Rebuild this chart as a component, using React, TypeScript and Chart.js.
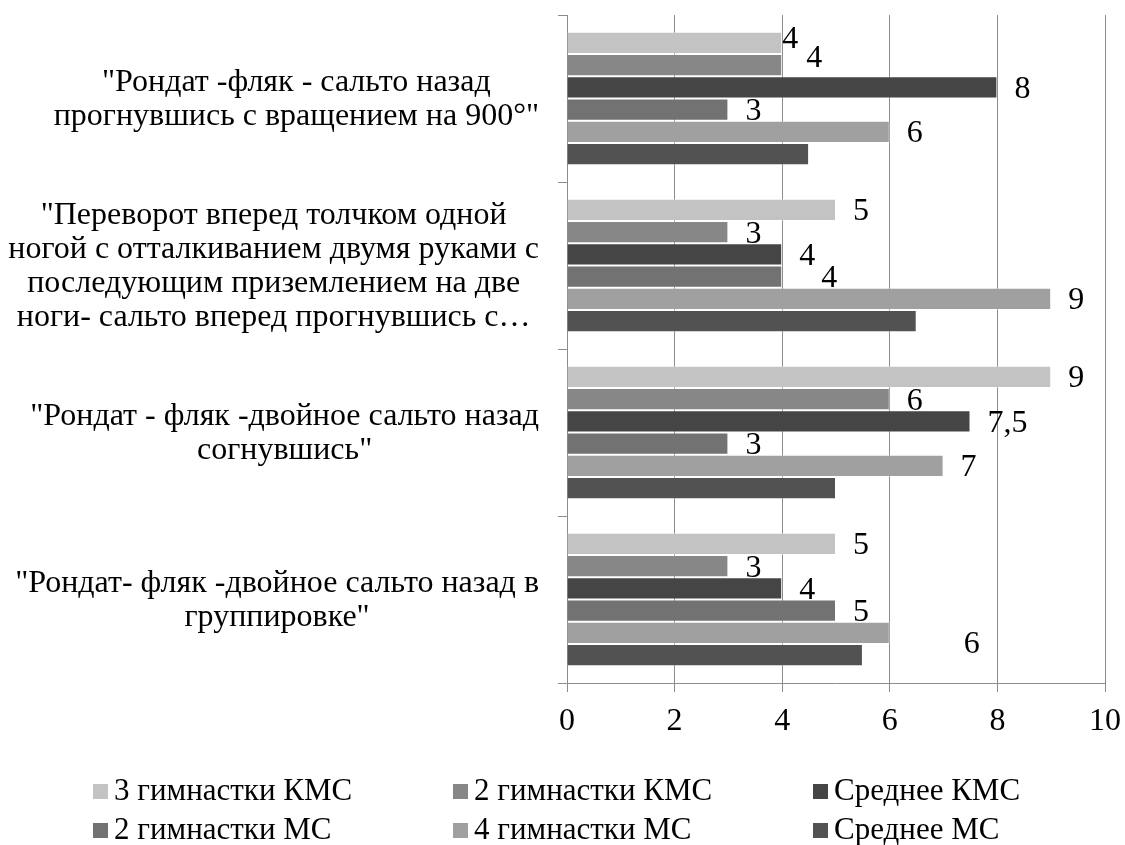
import React, { useEffect, useRef } from "react";
import { Chart, registerables } from "chart.js";

Chart.register(...registerables);

// ---- Data ----
const CATEGORIES: string[][] = [
  ['"Рондат -фляк - сальто назад', 'прогнувшись с вращением на 900°"'],
  [
    '"Переворот вперед толчком одной',
    "ногой с отталкиванием двумя руками с",
    "последующим приземлением на две",
    "ноги- сальто вперед прогнувшись с…",
  ],
  ['"Рондат - фляк -двойное сальто назад', 'согнувшись"'],
  ['"Рондат- фляк -двойное сальто назад в', 'группировке"'],
];

const SERIES_NAMES = [
  "3 гимнастки КМС",
  "2 гимнастки КМС",
  "Среднее КМС",
  "2 гимнастки МС",
  "4 гимнастки МС",
  "Среднее МС",
];

const KMS_3 = [4, 5, 9, 5];
const KMS_2 = [4, 3, 6, 3];
const KMS_AVG = [8, 4, 7.5, 4];
const MS_2 = [3, 4, 3, 5];
const MS_4 = [6, 9, 7, 6];
const MS_AVG = [4.5, 6.5, 5, 5.5];

const X_TICKS = [0, 2, 4, 6, 8, 10];

// ---- Styles ----
const FONT = '"Liberation Serif", "Times New Roman", serif';
const FS = 32;
const LEGEND_FS = 31;
const COLORS = ["#c3c3c3", "#878787", "#454545", "#727272", "#a0a0a0", "#525252"];
const SHOW_VALUE = [true, true, true, true, true, false];
// label nudges (dataset-category): [dx from bar end, dy from bar centre]
const LABEL_NUDGE: Record<string, [number, number]> = {
  "0-0": [0, -3],
  "1-0": [24, -7],
  "3-1": [39, 2],
  "4-3": [74, 12],
};
const DEFAULT_NUDGE: [number, number] = [17, 2];

export default function App() {
  const ref = useRef<HTMLCanvasElement>(null);

  useEffect(() => {
    if (!ref.current) return;
    const seriesData = [KMS_3, KMS_2, KMS_AVG, MS_2, MS_4, MS_AVG];

    const yLabelsPlugin = {
      id: "yLabelsBlock",
      afterDraw(chart: any) {
        const ctx = chart.ctx;
        const y = chart.scales.y;
        ctx.save();
        ctx.font = `${FS}px ${FONT}`;
        ctx.fillStyle = "#000";
        ctx.textAlign = "center";
        ctx.textBaseline = "middle";
        CATEGORIES.forEach((lines, i) => {
          const cy = y.getPixelForValue(i) + 1.5;
          const w = Math.max(...lines.map((l) => ctx.measureText(l).width));
          const cx = chart.chartArea.left - 28 - w / 2;
          lines.forEach((l, j) => {
            ctx.fillText(l, cx, cy + (j - (lines.length - 1) / 2) * 34);
          });
        });
        ctx.restore();
      },
    };

    const valueLabelsPlugin = {
      id: "valueLabels",
      afterDatasetsDraw(chart: any) {
        const ctx = chart.ctx;
        ctx.save();
        ctx.font = `${FS}px ${FONT}`;
        ctx.fillStyle = "#000";
        ctx.textAlign = "left";
        ctx.textBaseline = "middle";
        chart.data.datasets.forEach((ds: any, d: number) => {
          if (!SHOW_VALUE[d]) return;
          const meta = chart.getDatasetMeta(d);
          meta.data.forEach((bar: any, i: number) => {
            const v = ds.data[i];
            const [dx, dy] = LABEL_NUDGE[`${d}-${i}`] || DEFAULT_NUDGE;
            ctx.fillText(String(v).replace(".", ","), bar.x + dx, bar.y + dy);
          });
        });
        ctx.restore();
      },
    };

    const legendPlugin = {
      id: "gridLegend",
      afterDraw(chart: any) {
        const ctx = chart.ctx;
        const colX = [93, 453, 813];
        const rowY = [791, 830];
        ctx.save();
        ctx.font = `${LEGEND_FS}px ${FONT}`;
        ctx.textAlign = "left";
        ctx.textBaseline = "middle";
        chart.data.datasets.forEach((ds: any, d: number) => {
          const x = colX[d % 3];
          const y = rowY[Math.floor(d / 3)];
          ctx.fillStyle = ds.backgroundColor;
          ctx.fillRect(x, y - 7, 15, 15);
          ctx.fillStyle = "#000";
          ctx.fillText(ds.label, x + 21, y + 1);
        });
        ctx.restore();
      },
    };

    const chart = new Chart(ref.current, {
      type: "bar",
      data: {
        labels: CATEGORIES.map((c) => c.join(" ")),
        datasets: SERIES_NAMES.map((name, i) => ({
          label: name,
          data: seriesData[i],
          backgroundColor: COLORS[i],
          borderColor: "rgba(255,255,255,0.35)",
          borderWidth: 1,
          borderSkipped: "start",
          categoryPercentage: 0.8,
          barPercentage: 1,
        })),
      },
      options: {
        indexAxis: "y",
        animation: false,
        responsive: false,
        maintainAspectRatio: false,
        layout: { padding: { top: 15, right: 20, bottom: 102, left: 0 } },
        plugins: {
          legend: { display: false },
          tooltip: { enabled: false },
        },
        scales: {
          x: {
            min: 0,
            max: 10,
            afterBuildTicks: (s: any) => {
              s.ticks = X_TICKS.map((v) => ({ value: v }));
            },
            ticks: {
              font: { family: FONT, size: FS },
              color: "#000",
              padding: 10,
              maxRotation: 0,
            },
            grid: { color: "#8c8c8c", tickLength: 9, drawTicks: true, lineWidth: 1 },
            border: { color: "#8c8c8c", width: 1 },
            afterFit: (s: any) => {
              s.height = 60;
              s.paddingLeft = 0;
              s.paddingRight = 0;
            },
          },
          y: {
            ticks: { display: false },
            grid: {
              drawOnChartArea: false,
              drawTicks: true,
              tickLength: 9,
              color: "#8c8c8c",
              offset: true,
            },
            border: { color: "#8c8c8c", width: 1 },
            afterFit: (s: any) => {
              s.width = 567;
              s.paddingTop = 0;
              s.paddingBottom = 0;
            },
          },
        },
      } as any,
      plugins: [yLabelsPlugin, valueLabelsPlugin, legendPlugin],
    });

    return () => chart.destroy();
  }, []);

  return (
    <div style={{ position: "absolute", left: 0, top: 0, width: 1125, height: 845, background: "#fff" }}>
      <canvas ref={ref} width={1125} height={845} style={{ display: "block" }} />
    </div>
  );
}
